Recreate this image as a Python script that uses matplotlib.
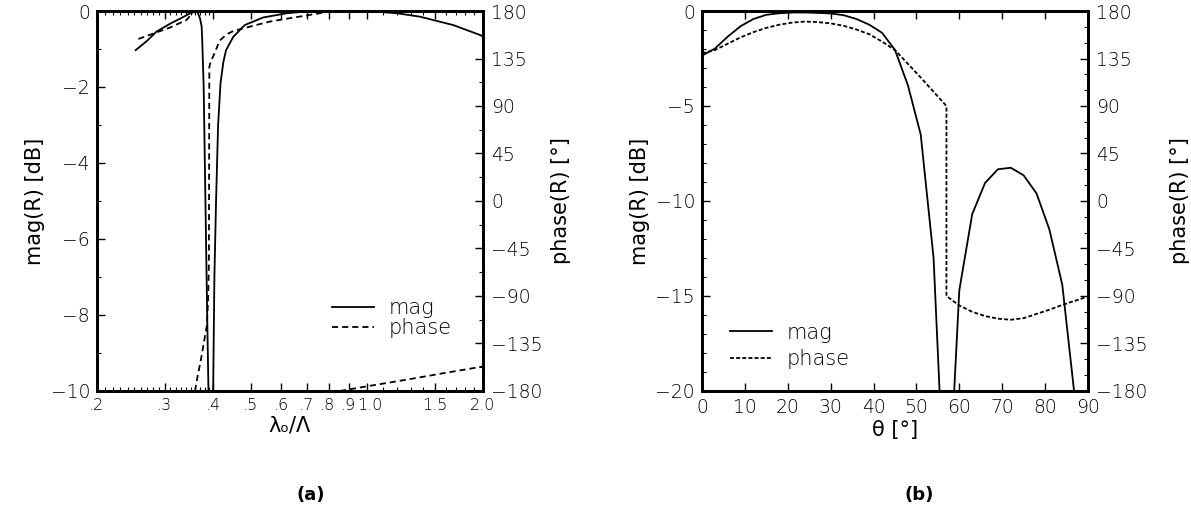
import numpy as np
import matplotlib
matplotlib.use("Agg")
import matplotlib.pyplot as plt
import matplotlib.transforms as mtransforms
from matplotlib.ticker import FixedLocator, NullFormatter

plt.rcParams["font.family"] = ["DejaVu Sans"]
plt.rcParams["font.weight"] = "light"
plt.rcParams["font.size"] = 13.5

# (a) reflection vs normalised wavelength
lam_mag = [0.252, 0.27, 0.2855, 0.31, 0.33, 0.35, 0.36, 0.365, 0.370, 0.3735, 0.375,
           0.378, 0.382, 0.386, 0.389, 0.395, 0.400, 0.403, 0.407, 0.412, 0.418, 0.425,
           0.432, 0.451, 0.483, 0.539, 0.62, 0.685, 0.8, 1.0, 1.2, 1.374, 1.675, 1.964, 2.0]
mag_a = [-1.03, -0.78, -0.54, -0.33, -0.19, -0.05, 0.0, -0.05, -0.2, -0.41, -0.85,
         -2.0, -5.0, -8.0, -10.0, -30.0, -10.0, -7.0, -5.0, -3.0, -1.9, -1.35,
         -1.03, -0.68, -0.37, -0.17, -0.06, -0.02, 0.0, 0.0, -0.06, -0.15, -0.37, -0.63, -0.67]

# phase wraps at +/-180, nan marks the wrap
lam_ph = [0.256, 0.27, 0.2855, 0.31, 0.3414, 0.357, np.nan,
          0.359, 0.365, 0.372, 0.378, 0.385, 0.388, 0.390, 0.391, 0.394, 0.400, 0.416,
          0.434, 0.451, 0.479, 0.561, 0.685, 0.771, 0.79, np.nan,
          0.852, 1.0, 1.268, 1.6, 2.0]
phase_a = [153.5, 156.5, 159.8, 164.5, 171.5, 180.0, np.nan,
           -180.0, -165.0, -150.0, -135.0, -119.0, -95.0, -60.0, 127.0, 132.0, 137.0, 152.0,
           158.0, 161.0, 163.6, 170.0, 175.3, 178.4, 180.0, np.nan,
           -180.0, -175.6, -169.3, -162.8, -156.8]

# (b) reflection vs angle
theta = [0, 3, 6, 9, 12, 15, 18, 21, 24, 27, 30, 33, 36, 39, 42, 45, 48, 51, 54, 57,
         60, 63, 66, 69, 72, 75, 78, 81, 84, 87, 90]
mag_b = [-2.35, -1.98, -1.35, -0.8, -0.42, -0.2, -0.12, -0.08, -0.08, -0.1, -0.13,
         -0.22, -0.42, -0.72, -1.15, -2.05, -3.9, -6.5, -13.0, -28.0,
         -14.7, -10.7, -9.05, -8.33, -8.25, -8.65, -9.6, -11.5, -14.4, -20.5, -30.0]

theta_ph = [0, 3, 6, 9, 12, 15, 18, 21, 24, 27, 30, 33, 36, 39, 42, 45, 48, 51, 54, 57,
            57, 60, 63, 66, 69, 72, 75, 78, 81, 84, 87, 90]
phase_b = [140, 143, 149, 155, 160, 164, 167, 169, 170, 169.5, 168.3, 166, 162.5, 158,
           151, 143, 130, 117, 103.5, 90,
           -90, -99, -105, -109, -111.5, -112.5, -111, -107, -103, -98.5, -94.5, -90.5]

lam_ticks = [0.2, 0.3, 0.4, 0.5, 0.6, 0.7, 0.8, 0.9, 1.0, 1.5, 2.0]
lam_labels = [".2", ".3", ".4", ".5", ".6", ".7", ".8", ".9", "1.0", "1.5", "2.0"]
lam_minor = [0.21, 0.22, 0.23, 0.24, 0.25, 0.26, 0.27, 0.28, 0.29,
             0.31, 0.32, 0.33, 0.34, 0.35, 0.36, 0.37, 0.38, 0.39,
             1.1, 1.2, 1.3, 1.4, 1.6, 1.7, 1.8, 1.9]
ph_ticks = [-180, -135, -90, -45, 0, 45, 90, 135, 180]

fig = plt.figure(figsize=(11.91, 5.29), dpi=100)
ax1 = fig.add_axes([0.0814, 0.2609, 0.3241, 0.7183])
ax2 = fig.add_axes([0.5894, 0.2609, 0.3241, 0.7183])

lw = 1.3
lab_fs = 15
tick_kw = dict(direction="in", width=1.0, labelsize=13.5)


def style(ax, axr, rpad):
    for a in (ax, axr):
        for s in a.spines.values():
            s.set_linewidth(2.0)
    ax.tick_params(which="major", length=6, top=True, pad=5, **tick_kw)
    ax.tick_params(which="minor", length=3, top=True, direction="in", width=0.8)
    axr.tick_params(which="major", length=6, pad=6, **tick_kw)
    axr.tick_params(which="minor", length=3, direction="in", width=0.8)
    axr.set_ylim(-180, 180)
    axr.set_yticks(ph_ticks)
    axr.set_ylabel("phase(R) [°]", fontsize=lab_fs, labelpad=rpad)
    ax.set_ylabel("mag(R) [dB]", fontsize=lab_fs, labelpad=4)


# --- (a)
ax1r = ax1.twinx()
ax1.plot(lam_mag, mag_a, color="black", lw=lw, label="mag")
ax1r.plot(lam_ph, phase_a, color="black", lw=lw, linestyle=(0, (3.4, 2.2)))
ax1.plot([], [], color="black", lw=lw, linestyle=(0, (3.4, 2.2)), label="phase")
ax1.set_xscale("log")
ax1.set_xlim(0.2, 2.0)
ax1.set_ylim(-10, 0)
ax1.xaxis.set_major_locator(FixedLocator(lam_ticks))
ax1.set_xticklabels(lam_labels)
ax1.xaxis.set_minor_locator(FixedLocator(lam_minor))
ax1.xaxis.set_minor_formatter(NullFormatter())
ax1.set_yticks([-10, -8, -6, -4, -2, 0])
ax1.set_yticks([-9, -7, -5, -3, -1], minor=True)
ax1r.set_yticks([-157.5, -112.5, -67.5, -22.5, 22.5, 67.5, 112.5, 157.5], minor=True)
ax1.set_xlabel("λₒ/Λ", fontsize=lab_fs, labelpad=2)
style(ax1, ax1r, 6)
ax1.tick_params(axis="x", which="major", labelsize=11.5)
# the crowded labels near 1.0 are nudged apart a little
nudge = {".8": -2, ".9": -1, "1.0": 3}
for lbl, txt in zip(ax1.get_xticklabels(), lam_labels):
    dx = nudge.get(txt, 0)
    if dx:
        lbl.set_transform(lbl.get_transform() +
                          mtransforms.ScaledTranslation(dx / 100, 0, fig.dpi_scale_trans))
ax1.legend(loc="upper left", bbox_to_anchor=(0.61, 0.245), frameon=False, fontsize=lab_fs,
           handlelength=2.0, handletextpad=0.7, labelspacing=0.0, borderpad=0,
           borderaxespad=0)

# --- (b)
ax2r = ax2.twinx()
ax2.plot(theta, mag_b, color="black", lw=lw, label="mag")
ax2r.plot(theta_ph, phase_b, color="black", lw=lw, linestyle=(0, (2.2, 1.2)))
ax2.plot([], [], color="black", lw=lw, linestyle=(0, (2.2, 1.2)), label="phase")
ax2.set_xlim(0, 90)
ax2.set_ylim(-20, 0)
ax2.set_xticks(np.arange(0, 91, 10))
ax2.set_yticks([-20, -15, -10, -5, 0])
ax2.set_yticks([v for v in range(-19, 0) if v % 5 != 0], minor=True)
ax2r.set_yticks([v for v in range(-165, 180, 15) if v % 45 != 0], minor=True)
ax2.set_xlabel("θ [°]", fontsize=lab_fs, labelpad=2)
style(ax2, ax2r, 16)
ax2.legend(loc="upper left", bbox_to_anchor=(0.073, 0.18), frameon=False, fontsize=lab_fs,
           handlelength=2.0, handletextpad=0.7, labelspacing=0.3, borderpad=0,
           borderaxespad=0)

fig.text(0.261, 0.064, "(a)", ha="center", va="center", fontsize=13, fontweight="bold",
         family=["Liberation Sans Narrow", "DejaVu Sans"])
fig.text(0.772, 0.064, "(b)", ha="center", va="center", fontsize=13, fontweight="bold",
         family=["Liberation Sans Narrow", "DejaVu Sans"])

fig.savefig("out.png", dpi=100)
